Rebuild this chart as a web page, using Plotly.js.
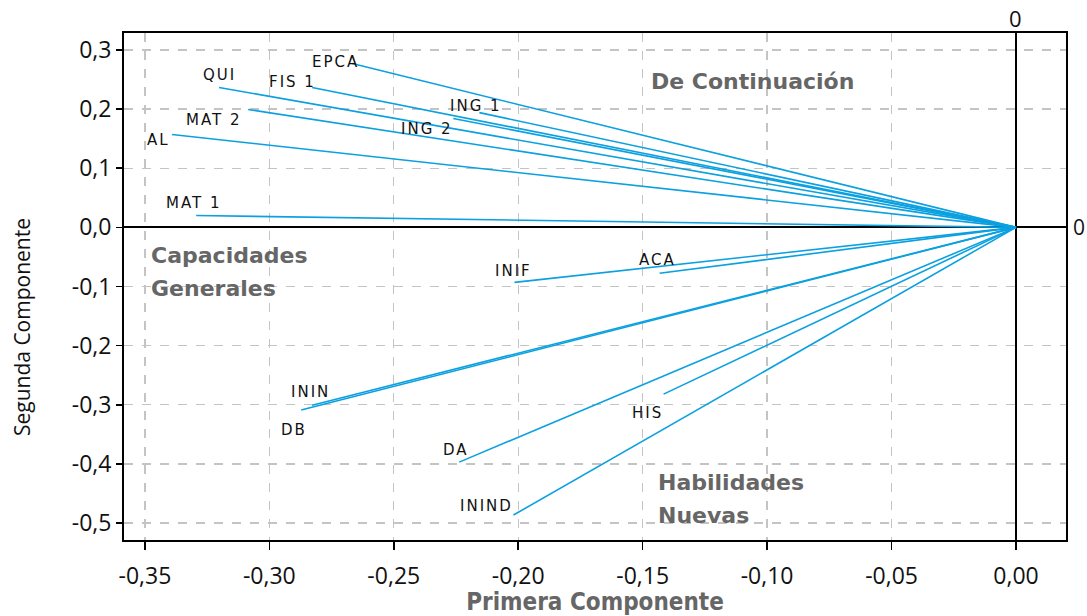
<!DOCTYPE html>
<html><head><meta charset="utf-8">
<script src="https://cdn.plot.ly/plotly-3.0.1.min.js"></script>
<style>body{margin:0;background:#fff}</style>
</head><body>
<div id="chart" style="width:1087px;height:616px"></div>
<script>
// Variable loadings (Primera / Segunda Componente)
const variables = ["EPCA","QUI","FIS 1","MAT 2","AL","ING 1","ING 2","MAT 1","INIF","ACA","ININ","DB","DA","ININD","HIS"];
const comp1 = [-0.2667,-0.3202,-0.2828,-0.3085,-0.3391,-0.2156,-0.2261,-0.3294,-0.2015,-0.1432,-0.2828,-0.2872,-0.2237,-0.2019,-0.1416];
const comp2 = [0.277,0.2365,0.2365,0.1993,0.157,0.194,0.184,0.020,-0.093,-0.0777,-0.3007,-0.309,-0.397,-0.4865,-0.282];

const xTickVals = [-0.35,-0.30,-0.25,-0.20,-0.15,-0.10,-0.05,0.00];
const xTickText = ["-0,35","-0,30","-0,25","-0,20","-0,15","-0,10","-0,05","0,00"];
const yTickVals = [0.3,0.2,0.1,0.0,-0.1,-0.2,-0.3,-0.4,-0.5];
const yTickText = ["0,3","0,2","0,1","0,0","-0,1","-0,2","-0,3","-0,4","-0,5"];

const quadrantLabels = ["De Continuación","Capacidades","Generales","Habilidades","Nuevas"];

// label offsets in pixels relative to the arrow tip (style only)
const labelShift = [[-17,2],[0,13],[-20,6],[-34,-10],[-14,-5],[-3,7],[-26,-10],[-2,13],[-1,11],[-2,13],[-2,13],[-7,-20],[-3,12],[-27,9],[-16,-19]];

const lineColor = "#0ba0e0";
const traces = variables.map((v,i)=>({
  type:"scatter", mode:"lines",
  x:[0, comp1[i]], y:[0, comp2[i]],
  line:{color:lineColor, width:1.6},
  hoverinfo:"skip", showlegend:false, name:v
}));

const annotations = variables.map((v,i)=>({
  x:comp1[i], y:comp2[i], xref:"x", yref:"y",
  text:'<span style="letter-spacing:2px">'+v+'</span>',
  showarrow:false, xanchor:"center", yanchor:"middle",
  xshift:labelShift[i][0], yshift:labelShift[i][1],
  font:{family:"DejaVu Sans", size:15, color:"#111"}
}));

const qFont = {family:"DejaVu Sans", size:22, color:"#666666", weight:"bold"};
const qPos = [[0.557,0.905],[0.0265,0.561],[0.0265,0.496],[0.565,0.114],[0.565,0.049]];
quadrantLabels.forEach((t,i)=>{
  annotations.push({x:qPos[i][0], y:qPos[i][1], xref:"paper", yref:"paper",
    text:"<b>"+t+"</b>", showarrow:false, xanchor:"left", yanchor:"middle", font:qFont});
});
// secondary axis "0" markers
annotations.push({x:0, y:1, xref:"x", yref:"paper", text:"0", showarrow:false,
  xanchor:"center", yanchor:"bottom", yshift:-2, font:{family:"Open Sans", size:22, color:"#111"}});
annotations.push({x:1, y:0, xref:"paper", yref:"y", text:"0", showarrow:false,
  xanchor:"left", yanchor:"middle", xshift:5, font:{family:"Open Sans", size:21, color:"#111"}});
// y axis title (placed off-centre as in the reference)
annotations.push({x:0, y:0.42, xref:"paper", yref:"paper", xshift:-102, text:"Segunda Componente",
  showarrow:false, textangle:-90, xanchor:"center", yanchor:"middle",
  font:{family:"Open Sans", size:21, color:"#111"}});

const layout = {
  width:1087, height:616,
  margin:{l:124, r:21, t:33, b:76},
  paper_bgcolor:"#fff", plot_bgcolor:"#fff",
  xaxis:{
    range:[-0.3584, 0.0201], tickmode:"array", tickvals:xTickVals, ticktext:xTickText,
    showgrid:true, gridcolor:"#c4c4c4", griddash:"dash", gridwidth:1.4,
    zeroline:true, zerolinecolor:"#000", zerolinewidth:2,
    showline:true, mirror:true, linecolor:"#000", linewidth:2,
    ticks:"outside", ticklen:8, tickcolor:"#000", tickwidth:1.5,
    ticklabelstandoff:6,
    tickfont:{family:"Open Sans", size:23, color:"#111"},
    title:{text:"Primera Componente", standoff:2,
      font:{family:"DejaVu Sans Condensed", size:24, color:"#666666", weight:"bold"}}
  },
  yaxis:{
    range:[-0.5287, 0.3287], tickmode:"array", tickvals:yTickVals, ticktext:yTickText,
    showgrid:true, gridcolor:"#c4c4c4", griddash:"dash", gridwidth:1.4,
    zeroline:true, zerolinecolor:"#000", zerolinewidth:2,
    showline:true, mirror:true, linecolor:"#000", linewidth:2,
    ticks:"outside", ticklen:6, tickcolor:"#000", tickwidth:1.5,
    tickfont:{family:"Open Sans", size:23, color:"#111"}
  },
  annotations:annotations
};

Plotly.newPlot("chart", traces, layout, {displayModeBar:false, staticPlot:true});
</script>
</body></html>
